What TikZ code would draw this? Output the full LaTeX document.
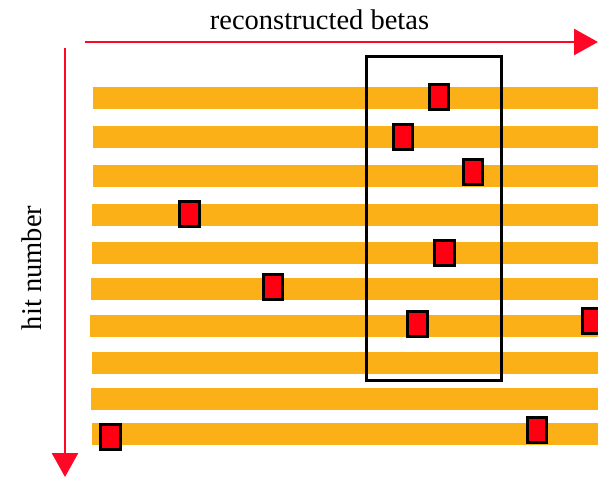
\documentclass[tikz,border=0pt]{standalone}
\usepackage{fontspec}
\setmainfont{Liberation Serif}
\usetikzlibrary{arrows.meta}
\definecolor{barorange}{RGB}{252,176,24}
\definecolor{hitred}{RGB}{255,0,18}
\definecolor{axisred}{RGB}{255,8,40}
\tikzset{
  bar/.style={rectangle, fill=barorange, inner sep=0pt, minimum height=21.5pt, anchor=north west},
  hit/.style={rectangle, draw=black, fill=hitred, line width=3pt, inner sep=0pt, minimum width=19.5pt, minimum height=25pt},
  window/.style={draw=black, line width=3pt},
  axis/.style={draw=axisred, line width=2.7pt, -{Triangle[length=24pt,width=26pt]}},
  label/.style={font=\fontsize{28.5}{30}\selectfont, inner sep=0pt}
}
\begin{document}
\begin{tikzpicture}[x=1pt,y=-1pt]
\useasboundingbox (0,0) rectangle (598,477);

% one orange strip per hit
\foreach \i/\top/\left in {1/87/93, 2/126/93, 3/165/93, 4/204/92, 5/242/92,
                           6/278/91, 7/315/90, 8/352/92, 9/388/91, 10/423/92}{
  \pgfmathsetmacro{\w}{598-\left}
  \node[bar, minimum width=\w pt] (bar\i) at (\left,\top) {};
}

% search window
\node[window, rectangle, inner sep=0pt, minimum width=135pt, minimum height=324.5pt] (win) at (433.5,218.3) {};

% reconstructed hits
\node[hit] (h1)  at (439,96.5)   {};
\node[hit] (h2)  at (403,136.5)  {};
\node[hit] (h3)  at (473,172)    {};
\node[hit] (h4)  at (189.5,213.5) {};
\node[hit] (h5)  at (444.5,252.5) {};
\node[hit] (h6)  at (273,286.5)  {};
\node[hit] (h7)  at (417.5,324)  {};
\node[hit] (h8)  at (592,321)    {};
\node[hit] (h9)  at (537,429.5)  {};
\node[hit] (h10) at (110.5,436.5) {};

% axes
\coordinate (xs) at (85,42);
\coordinate (xe) at (598,42);
\coordinate (ys) at (65,48);
\coordinate (ye) at (65,477);
\draw[axis] (xs) -- (xe);
\draw[axis] (ys) -- (ye);

\node[label, anchor=base] (xlab) at (319.5,29.3) {reconstructed betas};
\node[label, anchor=base, rotate=90] (ylab) at (41.5,268) {hit number};
\end{tikzpicture}
\end{document}
